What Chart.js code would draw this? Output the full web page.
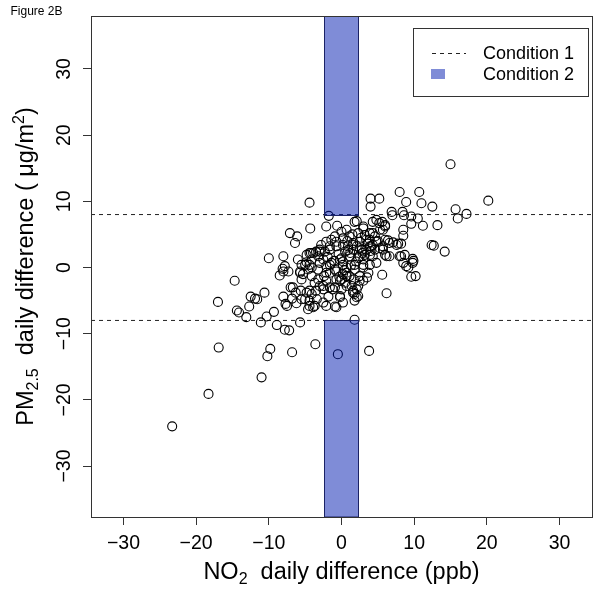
<!DOCTYPE html>
<html><head><meta charset="utf-8">
<script src="https://cdn.jsdelivr.net/npm/chart.js@4"></script>
<style>html,body{margin:0;padding:0;background:#fff}canvas{display:block}</style>
</head><body>
<canvas id="c" width="601" height="592" style="width:601px;height:592px"></canvas>
<script>
// ---- data ----
const no2Diff = [
-23.3,-18.3,-17.0,-16.9,-14.7,-14.4,-14.1,-13.1,-12.7,-12.5,-11.9,-11.6,-10.6,-11.1,-10.3,-9.3,-8.9,-7.8,-7.2,-5.7,
-11.0,-9.8,-10.2,-6.8,-3.6,-0.5,3.8,1.8,-10.0,-8.0,-6.0,-7.1,-6.1,-6.4,-4.3,-4.4,-1.75,-2.1,-0.6,-8.1,
-7.8,-8.5,-8.0,-7.3,-5.7,-5.3,-4.4,-4.1,-3.0,-2.3,-1.4,-0.7,0.2,0.9,0.5,-8.0,-7.7,-7.5,-6.2,-6.8,
-5.5,-7.0,-6.7,-6.3,-5.5,-4.8,-4.1,-5.5,-4.4,-3.5,-2.1,-1.6,-5.6,-4.8,-4.1,-4.4,-4.4,-3.9,-2.1,-0.7,
0.2,-3.7,-3.0,-2.5,-1.6,1.8,2.1,1.6,-4.6,-3.7,-2.5,-0.9,-4.8,-4.2,-3.2,-3.0,-2.1,-1.4,-1.6,-0.7,
-0.2,0.2,-0.7,0.0,0.7,-2.1,-3.2,-4.1,-5.7,-4.6,-5.0,-2.5,-0.9,0.7,-3.5,-4.4,-5.0,6.2,5.6,9.6,
10.2,9.9,9.2,12.4,12.7,14.2,15.0,20.2,15.7,16.0,17.2,13.2,12.5,11.0,10.7,8.0,8.9,5.2,4.0,4.0,
6.9,7.0,8.4,8.6,9.6,10.5,11.2,9.6,8.5,8.5,7.1,7.8,8.2,6.4,6.2,6.6,8.2,9.8,9.8,6.0,
5.6,4.8,5.2,4.3,4.6,3.9,4.6,5.7,6.0,4.8,8.5,1.8,2.1,4.3,3.0,3.2,3.4,3.9,5.7,4.8,
5.3,6.0,1.6,2.5,3.0,3.9,4.3,1.6,2.5,3.4,4.3,5.7,6.6,7.6,8.7,8.0,8.9,3.2,2.3,1.1,
0.2,0.7,1.8,3.0,3.9,3.7,2.5,1.1,0.2,0.5,1.4,2.1,2.5,0.0,-0.2,2.3,1.8,0.0,0.7,-0.9,
0.2,1.1,2.3,3.0,1.6,2.5,2.8,3.9,4.1,5.3,6.0,-3.9,-3.0,-1.6,-0.7,0.0,2.1,3.0,1.8,0.7,
-0.9,-2.1,-3.2,-2.5,-1.6,3.0,2.3,1.6,-0.2,-1.2,-0.2,-3.4,-1.8,
1.2,2.0,-0.4,0.8,1.5,2.7,3.6,-1.0,-2.8,0.4,1.3,2.9,4.0,-0.3,1.7,-1.9,3.5,5.0,-2.4,0.9
];
const pm25Diff = [
-24.0,-19.1,-5.2,-12.1,-2.0,-6.5,-6.8,-7.5,-5.9,-4.4,-4.7,-4.8,-3.8,-8.3,-7.4,-6.7,-8.7,-9.4,-9.5,-8.3,
-16.6,-12.3,-13.4,-12.8,-11.6,-13.1,-12.6,-7.9,1.4,1.7,1.2,5.2,4.7,3.7,5.9,9.8,7.8,6.2,6.3,-0.2,
0.2,-1.2,-0.6,-0.6,-0.6,-1.0,0.4,0.0,2.4,2.4,4.2,3.9,3.4,3.2,2.4,-4.4,-5.5,-5.8,-5.4,-4.7,
-4.8,-3.0,-3.0,-3.8,-1.8,0.8,1.2,0.4,2.2,2.4,3.9,3.2,-3.5,-3.8,-4.0,-5.0,-5.8,-6.0,-5.8,-6.0,
-5.3,-2.3,-2.8,-3.3,-3.0,-4.0,-4.5,-3.5,-6.3,-5.8,-5.3,-5.9,1.9,2.2,1.7,0.7,0.2,0.7,-0.8,-0.6,
1.2,0.4,-1.8,-1.8,-1.3,-2.0,-1.8,-1.3,-0.8,-0.3,0.4,-2.8,-3.0,-2.8,-3.5,-3.5,-4.8,-3.9,-1.1,-1.4,
-1.3,1.0,0.0,3.4,3.3,2.4,15.6,10.1,8.8,7.4,8.1,6.4,9.2,9.7,11.4,11.4,9.9,10.4,10.4,9.2,
8.4,7.9,8.4,7.9,7.7,7.4,6.3,6.6,5.7,4.8,3.8,3.6,3.6,4.1,1.7,1.7,1.7,1.3,0.7,6.4,
6.9,7.2,6.7,5.2,4.7,3.2,2.7,2.7,1.9,0.7,0.7,6.9,7.0,6.9,6.2,4.9,4.2,5.2,5.7,3.9,
2.9,4.2,2.7,1.7,1.2,1.9,1.7,3.7,2.9,2.7,3.4,3.2,3.7,3.4,1.9,1.7,0.2,1.9,1.4,1.7,
0.9,0.0,0.4,0.0,0.4,-0.8,-1.3,-1.3,-1.0,-2.3,-2.8,-3.3,-2.0,-3.3,-4.5,-4.3,-5.0,5.4,5.7,4.7,
4.4,4.7,5.2,5.9,3.4,3.9,2.7,4.2,3.2,5.7,6.2,2.2,2.7,2.7,3.2,1.4,3.2,0.4,-0.3,-0.8,
-0.3,-0.8,-0.3,1.2,0.4,-2.0,-2.8,-3.8,-2.0,-3.3,-4.3,-4.8,-4.4,
2.2,0.9,2.0,4.0,5.0,4.5,3.6,1.0,3.4,-0.4,0.3,2.2,2.5,-1.4,-1.8,1.6,-1.5,4.0,-1.3,2.6
];
const xTickValues = [-30, -20, -10, 0, 10, 20, 30];
const yTickValues = [-30, -20, -10, 0, 10, 20, 30];
const xRange = [-34.47, 34.47];
const yRange = [-37.7, 38.0];
const condition1Threshold = 8;          // dashed lines at +/- 8
const condition2Band = [-2.4, 2.3];     // shaded NO2 band
const legendLabels = ['Condition 1', 'Condition 2'];
const figureLabel = 'Figure 2B';

// ---- drawing ----
const FONT = '"Liberation Sans", Arial, Helvetica, sans-serif';
const BAND_FILL = 'rgba(0,25,175,0.5)';
const BAND_EDGE = '#1b2366';
const AXIS_COL = '#333';
const fmt = v => (v < 0 ? '\u2212' + Math.abs(v) : String(v));

const points = no2Diff.map((x, i) => ({ x: x, y: pm25Diff[i] }));
const hLine = v => [{ x: xRange[0], y: v }, { x: xRange[1], y: v }];

function drawRich(ctx, parts, startX, baseY) {
  let x = startX;
  parts.forEach(p => {
    ctx.font = p.s + 'px ' + FONT;
    ctx.fillText(p.t, x, baseY + (p.dy || 0));
    x += ctx.measureText(p.t).width;
  });
}
function richWidth(ctx, parts) {
  let w = 0;
  parts.forEach(p => { ctx.font = p.s + 'px ' + FONT; w += ctx.measureText(p.t).width; });
  return w;
}

const decor = {
  id: 'decor',
  afterDatasetsDraw(chart) {
    const { ctx, chartArea: a, scales: { x, y } } = chart;
    ctx.save();
    ctx.beginPath();
    ctx.rect(a.left, a.top, a.right - a.left, a.bottom - a.top);
    ctx.clip();
    const x0 = Math.round(x.getPixelForValue(condition2Band[0])) + 0.5;
    const x1 = Math.round(x.getPixelForValue(condition2Band[1])) + 0.5;
    const yTop = y.getPixelForValue(y.max), yUp = Math.round(y.getPixelForValue(condition1Threshold)) + 0.5;
    const yDn = Math.round(y.getPixelForValue(-condition1Threshold)) + 0.5, yBot = y.getPixelForValue(y.min);
    [[yTop, yUp], [yDn, yBot]].forEach(([t, b]) => {
      ctx.fillStyle = BAND_FILL;
      ctx.fillRect(x0, t, x1 - x0, b - t);
      ctx.strokeStyle = BAND_EDGE;
      ctx.lineWidth = 1;
      ctx.strokeRect(x0, t, x1 - x0, b - t);
    });
    ctx.restore();
  },
  afterDraw(chart) {
    const { ctx, chartArea: a, scales: { y } } = chart;
    ctx.save();
    // plot box
    ctx.strokeStyle = AXIS_COL;
    ctx.lineWidth = 1;
    const L = Math.floor(a.left) + 0.5, T = Math.floor(a.top) + 0.5;
    const R = Math.floor(a.right) + 0.5, B = Math.floor(a.bottom) + 0.5;
    ctx.strokeRect(L, T, R - L, B - T);

    ctx.fillStyle = '#000';
    // y tick labels (rotated, as in the original)
    ctx.font = '19.5px ' + FONT;
    ctx.textAlign = 'center';
    ctx.textBaseline = 'alphabetic';
    yTickValues.forEach(v => {
      ctx.save();
      ctx.translate(a.left - 21, y.getPixelForValue(v));
      ctx.rotate(-Math.PI / 2);
      ctx.fillText(fmt(v), 0, 0);
      ctx.restore();
    });
    ctx.textAlign = 'left';

    // x title
    const xt = [{ t: 'NO', s: 23.5 }, { t: '2', s: 16, dy: 5 }, { t: '  daily difference (ppb)', s: 23.5 }];
    drawRich(ctx, xt, (a.left + a.right) / 2 - richWidth(ctx, xt) / 2, 579);

    // y title
    const yt = [{ t: 'PM', s: 23.5 }, { t: '2.5', s: 16, dy: 5 }, { t: '  daily difference ( \u03BCg/m', s: 23.5 },
                { t: '2', s: 16, dy: -9 }, { t: ')', s: 23.5 }];
    ctx.save();
    ctx.translate(32.5, (a.top + a.bottom) / 2);
    ctx.rotate(-Math.PI / 2);
    drawRich(ctx, yt, -richWidth(ctx, yt) / 2, 0);
    ctx.restore();

    // figure label
    ctx.font = '12px ' + FONT;
    ctx.fillText(figureLabel, 10.5, 15);

    // legend
    const lx = 413.5, ly = 28.5, lw = R - 4 - lx, lh = 68;
    ctx.fillStyle = '#fff';
    ctx.fillRect(lx, ly, lw, lh);
    ctx.strokeStyle = AXIS_COL;
    ctx.strokeRect(lx, ly, lw, lh);
    ctx.beginPath();
    ctx.setLineDash([4, 4]);
    ctx.strokeStyle = '#222';
    ctx.moveTo(432, 53.5); ctx.lineTo(466, 53.5);
    ctx.stroke();
    ctx.setLineDash([]);
    ctx.fillStyle = BAND_FILL;
    ctx.fillRect(431, 69, 14, 10);
    ctx.fillStyle = '#000';
    ctx.font = '18px ' + FONT;
    ctx.fillText(legendLabels[0], 483, 58.5);
    ctx.fillText(legendLabels[1], 483, 79.5);
    ctx.restore();
  }
};

new Chart(document.getElementById('c').getContext('2d'), {
  type: 'scatter',
  data: {
    datasets: [
      { data: points, pointRadius: 4.5, pointHoverRadius: 4.5, pointBorderWidth: 1.1,
        pointBorderColor: '#000', pointBackgroundColor: 'rgba(0,0,0,0)', borderColor: '#000' },
      { type: 'line', data: hLine(condition1Threshold), borderColor: '#222', borderWidth: 1,
        borderDash: [4, 4], pointRadius: 0, fill: false },
      { type: 'line', data: hLine(-condition1Threshold), borderColor: '#222', borderWidth: 1,
        borderDash: [4, 4], pointRadius: 0, fill: false }
    ]
  },
  options: {
    responsive: false, animation: false, devicePixelRatio: 1,
    layout: { padding: { left: 0, top: 16, right: 9, bottom: 0 } },
    plugins: { legend: { display: false }, tooltip: { enabled: false } },
    scales: {
      x: {
        type: 'linear', min: xRange[0], max: xRange[1],
        afterBuildTicks: s => { s.ticks = xTickValues.map(v => ({ value: v })); },
        afterFit: s => { s.height = 75; },
        ticks: { font: { family: FONT, size: 19.5 }, color: '#000', padding: 7, maxRotation: 0,
                 callback: v => fmt(v) },
        grid: { display: true, drawOnChartArea: false, drawTicks: true, tickLength: 8, color: AXIS_COL },
        border: { display: true, color: AXIS_COL }
      },
      y: {
        type: 'linear', min: yRange[0], max: yRange[1],
        afterBuildTicks: s => { s.ticks = yTickValues.map(v => ({ value: v })); },
        afterFit: s => { s.width = 91; },
        ticks: { display: false },
        grid: { display: true, drawOnChartArea: false, drawTicks: true, tickLength: 8, color: AXIS_COL },
        border: { display: true, color: AXIS_COL }
      }
    }
  },
  plugins: [decor]
});
</script>
</body></html>
